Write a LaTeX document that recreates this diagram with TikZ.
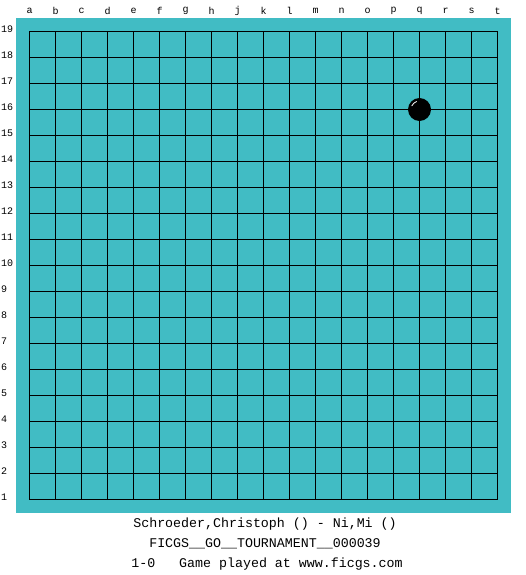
\documentclass[tikz,border=0pt]{standalone}
\usepackage{fontspec}
\setmonofont{Liberation Mono}
\usetikzlibrary{calc}

\begin{document}
\begin{tikzpicture}[line cap=rect,line join=round,x=1pt,y=-1pt]
\definecolor{boardcol}{rgb}{0.255,0.737,0.769}
\tikzset{gridline/.style={line width=1pt,black},
  coordlabel/.style={font=\ttfamily\fontsize{10}{10}\selectfont,inner sep=0pt},
  infoline/.style={font=\ttfamily\fontsize{13.3}{13.3}\selectfont,inner sep=0pt}}
\useasboundingbox (0,0) rectangle (525,575);
%board
\fill [color=boardcol] (16,18) rectangle (511,513);
\foreach \i in {0,...,18} {
  \draw [gridline] (29.5+26*\i,31.5) -- (29.5+26*\i,499.5);
  \draw [gridline] (29.5,31.5+26*\i) -- (497.5,31.5+26*\i);
}
%coordinates
\foreach \l [count=\i from 0] in {a,b,c,d,e,f,g,h,j,k,l,m,n,o,p,q,r,s,t}
  \node [coordlabel] (col\l) at (29.5+26*\i,11) {\l};
\foreach \r in {1,...,19}
  \node [coordlabel,anchor=west] (row\r) at (1,29+26*19-26*\r) {\r};
%stone on q16
\fill [black] (419.5,109.5) circle (11.5);
\draw [white,line width=0.8pt,line cap=round] (419.5,109.5) ++(205:8.5) arc (205:250:8.5);
%game info
\node [infoline] (players) at (265,524) {Schroeder,Christoph () - Ni,Mi ()};
\node [infoline] (event) at (265,544) {FICGS\_\_GO\_\_TOURNAMENT\_\_000039};
\node [infoline] (result) at (267,564) {1-0\ \ \ Game played at www.ficgs.com};
\end{tikzpicture}
\end{document}
